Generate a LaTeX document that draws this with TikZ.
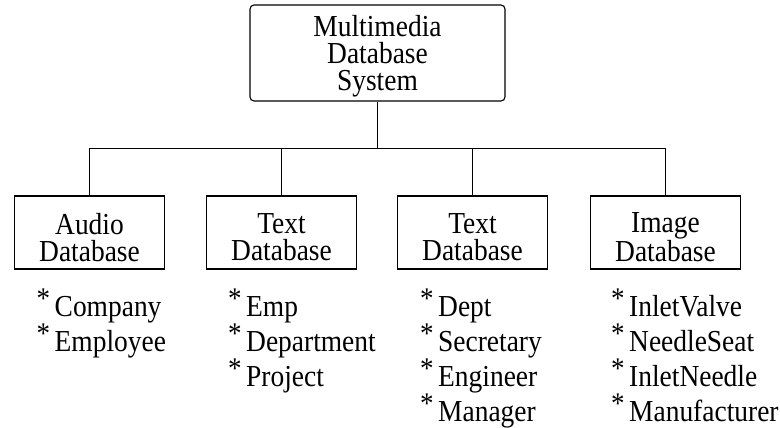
\documentclass[tikz,border=0pt]{standalone}
\usepackage{fontspec}
\setmainfont{Liberation Serif}[FakeStretch=0.9]
\newcommand\itemstar{\raisebox{8pt}{\fontsize{30}{30}\selectfont *}\hspace{4.5pt}}
\tikzset{
  base/.style={font=\fontsize{30.5}{27}\selectfont},
  frame/.style={draw, line width=1.1pt, inner sep=0pt},
  topbox/.style={frame, rounded corners=4pt, minimum width=255pt, minimum height=96pt},
  dbbox/.style={frame, minimum width=150pt, minimum height=73pt},
  label/.style={base, align=center, inner sep=0pt},
  entry/.style={base, anchor=base west, inner sep=0pt},
  link/.style={line width=1pt}
}
\begin{document}
\begin{tikzpicture}[x=1pt, y=-1pt]
  \useasboundingbox (0,0) rectangle (780,428);

  % root and the four databases
  \node[topbox] (root) at (377.5,53) {};
  \node[dbbox] (audio) at (89.5,232.5) {};
  \node[dbbox] (textA) at (281.5,232.5) {};
  \node[dbbox] (textB) at (472.5,232.5) {};
  \node[dbbox] (image) at (665.5,232.5) {};

  \node[label] (rootT) at ([yshift=-3pt]root.center) {Multimedia\\Database\\System};
  \node[label] (audioT) at ([yshift=-5pt]audio.center) {Audio\\Database};
  \node[label] (textAT) at ([yshift=-5pt]textA.center) {Text\\Database};
  \node[label] (textBT) at ([yshift=-5pt]textB.center) {Text\\Database};
  \node[label] (imageT) at ([yshift=-5pt]image.center) {Image\\Database};

  % tree connectors
  \coordinate (bus) at (377.5,148.5);
  \draw[link] (root.south) -- (bus);
  \draw[link] (audio.north) -- (audio.north |- bus) -- (image.north |- bus) -- (image.north);
  \draw[link] (textA.north) -- (textA.north |- bus);
  \draw[link] (textB.north) -- (textB.north |- bus);

  % contents of each database
  \node[entry] (a1) at (36.5,316) {\itemstar Company};
  \node[entry] (a2) at (36.5,351) {\itemstar Employee};

  \node[entry] (t1) at (228,316) {\itemstar Emp};
  \node[entry] (t2) at (228,351) {\itemstar Department};
  \node[entry] (t3) at (228,386) {\itemstar Project};

  \node[entry] (s1) at (420,316) {\itemstar Dept};
  \node[entry] (s2) at (420,351) {\itemstar Secretary};
  \node[entry] (s3) at (420,386) {\itemstar Engineer};
  \node[entry] (s4) at (420,421) {\itemstar Manager};

  \node[entry] (i1) at (611,316) {\itemstar InletValve};
  \node[entry] (i2) at (611,351) {\itemstar NeedleSeat};
  \node[entry] (i3) at (611,386) {\itemstar InletNeedle};
  \node[entry] (i4) at (611,421) {\itemstar Manufacturer};
\end{tikzpicture}
\end{document}
